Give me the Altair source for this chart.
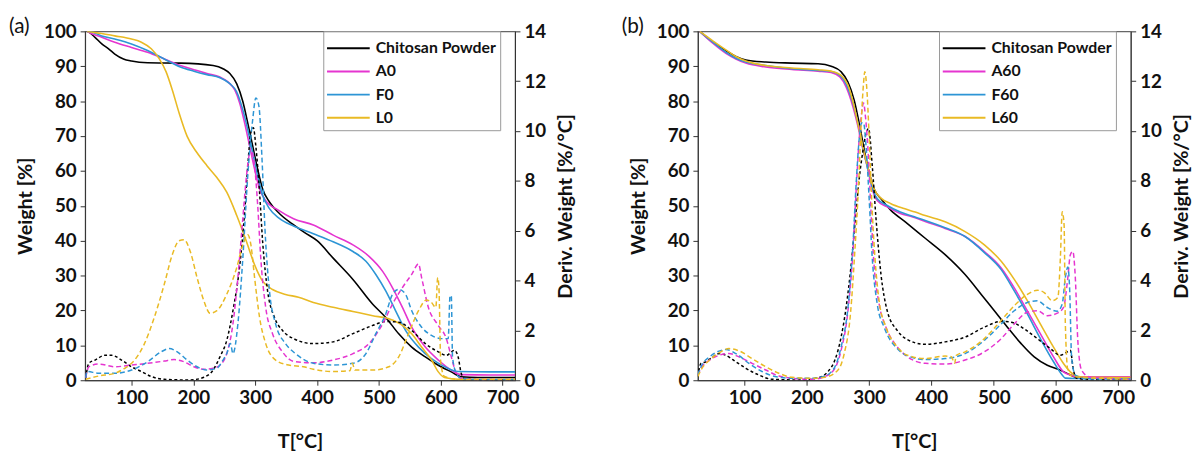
import altair as alt
import pandas as pd

# ---------------- Panel (a) : weight curves ----------------
A_CS_T = [28, 31, 41, 52, 63, 73, 87, 100, 126, 179, 232, 248, 259, 270, 280, 288, 296, 304, 312, 323, 339, 360, 380, 400, 426, 458, 490, 511, 532, 553, 575, 596, 617, 633, 660, 720]
A_CS_W = [100, 99.8, 98.3, 96.4, 95, 93.5, 92.1, 91.5, 91, 90.9, 90.2, 89.3, 87.9, 85, 79.9, 73.7, 67.1, 60.5, 54.8, 51.1, 47.8, 44.8, 42.3, 40, 35, 28.9, 21.8, 18, 13.3, 9.5, 6.7, 4.3, 2.4, 1.0, 0.8, 0.8]

A_A0_T = [28, 31, 52, 73, 100, 126, 153, 179, 201, 222, 243, 256, 267, 275, 283, 291, 299, 307, 317, 338, 362, 394, 426, 458, 484, 506, 522, 538, 553, 575, 596, 617, 633, 680, 720]
A_A0_W = [100, 99.7, 98.3, 96.9, 95.4, 94, 92.1, 90.2, 89, 87.9, 86.9, 85.5, 83.2, 79.4, 73.7, 67.1, 60.5, 54.8, 51.5, 48.7, 46.3, 44.5, 41.6, 38.8, 35.5, 31.2, 26.5, 20.9, 15.2, 9.5, 5.8, 2.9, 1.6, 1.5, 1.5]

A_F0_T = [28, 31, 52, 73, 100, 126, 153, 179, 201, 222, 243, 259, 270, 280, 288, 296, 304, 312, 323, 339, 362, 394, 426, 458, 479, 495, 511, 527, 543, 564, 585, 606, 628, 680, 720]
A_F0_W = [100, 100, 98.7, 97.8, 96.4, 94.5, 92.1, 89.8, 88.6, 87.6, 86.7, 85, 82.7, 77.5, 71.8, 65.2, 58.6, 53, 49.2, 46.4, 44.2, 42, 39.7, 36.9, 34.1, 30.3, 25.6, 19.9, 14.3, 9.5, 6.2, 3.9, 2.5, 2.4, 2.4]

A_L0_T = [28, 52, 73, 100, 116, 132, 145, 156, 166, 177, 190, 206, 222, 238, 254, 270, 286, 299, 312, 328, 349, 370, 394, 426, 458, 490, 516, 538, 553, 569, 585, 596, 606, 628, 720]
A_L0_W = [100, 99.4, 98.7, 97.8, 96.9, 95, 92.1, 88.4, 83.2, 76.6, 69.9, 65.2, 61.5, 58.1, 53.9, 47.3, 39.7, 33.1, 28.4, 26, 24.6, 23.8, 22.3, 20.9, 19.7, 18.5, 17.6, 15.7, 13.3, 9.5, 5.8, 2.4, 0.8, 0.3, 0.3]

# ---------------- Panel (a) : derivative curves ----------------
A_CSD_T = [26, 31, 41, 57, 68, 84, 100, 116, 132, 153, 195, 217, 232, 243, 254, 264, 275, 283, 288, 293, 297, 301, 307, 312, 320, 331, 344, 362, 394, 426, 458, 490, 511, 532, 553, 575, 596, 609, 622, 628, 633, 638, 660, 720]
A_CSD_D = [0.08, 0.68, 0.81, 1.0, 1.0, 0.81, 0.54, 0.35, 0.15, 0.04, 0.01, 0.12, 0.41, 0.94, 1.6, 2.79, 4.6, 6.76, 8.6, 9.94, 10.13, 9.4, 7.55, 5.57, 3.59, 2.53, 2.0, 1.67, 1.47, 1.54, 1.87, 2.2, 2.36, 2.33, 2.0, 1.47, 1.14, 1.0, 1.2, 0.94, 0.28, 0.08, 0.02, 0.02]

A_A0D_T = [26, 31, 47, 73, 100, 126, 153, 169, 185, 201, 217, 232, 246, 254, 264, 272, 280, 286, 291, 295, 299, 304, 309, 317, 328, 344, 362, 394, 426, 458, 484, 506, 522, 538, 553, 564, 569, 580, 596, 609, 617, 625, 633, 660, 720]
A_A0D_D = [0.1, 0.54, 0.65, 0.54, 0.61, 0.68, 0.77, 0.83, 0.74, 0.54, 0.44, 0.48, 0.68, 1.07, 2.26, 4.12, 6.5, 8.22, 9.08, 9.14, 8.6, 7.03, 4.9, 2.92, 1.87, 1.14, 0.76, 0.7, 0.81, 1.07, 1.47, 2.26, 3.06, 3.72, 4.25, 4.67, 4.12, 2.92, 2.2, 1.67, 0.94, 0.28, 0.08, 0.03, 0.03]

A_F0D_T = [26, 28, 47, 73, 100, 126, 148, 161, 174, 190, 206, 222, 238, 248, 254, 260, 264, 272, 280, 288, 296, 301, 306, 311, 316, 323, 333, 349, 365, 394, 426, 458, 479, 495, 511, 522, 532, 543, 553, 569, 585, 601, 612, 615, 617, 619, 625, 633, 660, 720]
A_F0D_D = [0.1, 0.35, 0.28, 0.28, 0.41, 0.74, 1.14, 1.27, 1.14, 0.81, 0.54, 0.41, 0.48, 0.81, 1.07, 1.47, 1.07, 2.26, 4.9, 8.22, 10.47, 11.33, 11.0, 8.88, 5.97, 3.59, 2.26, 1.47, 1.07, 0.68, 0.61, 0.68, 1.07, 1.87, 2.66, 3.45, 3.65, 3.45, 2.79, 2.13, 1.8, 1.67, 1.67, 3.39, 3.39, 0.94, 0.28, 0.08, 0.03, 0.03]

A_L0D_T = [26, 47, 73, 89, 105, 121, 137, 153, 166, 177, 185, 195, 206, 217, 227, 238, 254, 270, 280, 288, 293, 299, 307, 317, 333, 354, 378, 394, 426, 453, 457, 461, 490, 516, 532, 548, 564, 577, 585, 592, 595, 597, 600, 606, 630, 720]
A_L0D_D = [0.04, 0.17, 0.28, 0.48, 0.81, 1.47, 2.53, 3.85, 5.04, 5.6, 5.64, 5.17, 4.12, 3.19, 2.69, 2.79, 3.45, 4.51, 5.44, 5.84, 5.44, 4.12, 2.53, 1.47, 0.81, 0.61, 0.54, 0.44, 0.35, 0.38, 0.68, 0.41, 0.41, 0.54, 0.94, 1.87, 2.79, 3.22, 3.12, 2.92, 4.12, 3.72, 0.68, 0.15, 0.03, 0.03]

# ---------------- Panel (b) : weight curves ----------------
B_CS_T = [28, 49, 70, 86, 102, 134, 176, 218, 239, 255, 266, 276, 284, 292, 300, 308, 319, 335, 358, 390, 422, 454, 480, 501, 522, 544, 565, 586, 607, 623, 633, 680, 720]
B_CS_W = [100, 96.9, 94.5, 92.8, 91.8, 91.2, 90.9, 90.7, 90, 88.4, 85.5, 80.3, 73.7, 66.2, 59.6, 54.8, 52, 48.7, 45.4, 40.7, 36, 30.3, 24.6, 19.9, 15.2, 10.5, 6.7, 4.3, 2.9, 1.5, 0.85, 0.8, 0.8]

B_A60_T = [28, 49, 70, 86, 102, 134, 176, 218, 239, 253, 263, 274, 282, 290, 298, 305, 313, 329, 350, 370, 390, 422, 454, 485, 512, 533, 554, 575, 596, 612, 623, 633, 680, 720]
B_A60_W = [100, 96.6, 93.7, 92.1, 90.9, 89.8, 89.1, 88.6, 88.2, 86.9, 84.1, 78.4, 72.8, 66.2, 60.5, 54.8, 51.5, 49.7, 47.8, 46.8, 45.5, 43.5, 41.2, 36.9, 32.2, 26.5, 19.9, 13.3, 6.7, 2.4, 1.5, 1.0, 1.0, 1.0]

B_F60_T = [28, 49, 70, 86, 102, 134, 176, 218, 239, 253, 263, 274, 282, 290, 298, 305, 313, 329, 350, 370, 390, 422, 454, 485, 512, 533, 554, 575, 596, 610, 615, 630, 720]
B_F60_W = [100, 96.9, 94, 92.3, 91.2, 90.2, 89.3, 88.8, 88.5, 87.4, 84.9, 79.4, 73.7, 66.6, 60.5, 55.3, 52, 50.1, 48.2, 47, 45.8, 43.7, 41.2, 36.6, 31.7, 25.6, 19, 11.9, 5.3, 1.5, 0.6, 0.5, 0.5]

B_L60_T = [28, 49, 70, 86, 102, 134, 176, 218, 239, 255, 266, 276, 284, 292, 300, 308, 319, 335, 356, 374, 390, 422, 454, 485, 512, 533, 554, 575, 596, 612, 623, 633, 649, 720]
B_L60_W = [100, 97.3, 94.7, 92.8, 91.5, 90.2, 89.5, 89, 88.6, 87.4, 84.6, 78.4, 71.8, 65.2, 59.6, 54.8, 52.2, 50.6, 49.2, 48.2, 47.2, 45.4, 42.6, 38.8, 34.1, 28.9, 22.8, 16.1, 9.5, 4.8, 2.4, 1.2, 0.85, 0.8]

# ---------------- Panel (b) : derivative curves ----------------
B_CSD_T = [25, 30, 38, 49, 59, 70, 86, 102, 123, 144, 192, 218, 234, 245, 255, 263, 271, 279, 284, 290, 295, 299, 305, 311, 319, 329, 345, 360, 390, 422, 454, 485, 512, 528, 549, 570, 591, 607, 618, 623, 628, 633, 660, 720]
B_CSD_D = [0.15, 0.68, 0.74, 0.94, 1.07, 1.0, 0.74, 0.48, 0.21, 0.04, 0.01, 0.1, 0.35, 0.81, 1.73, 2.92, 4.6, 6.76, 8.08, 9.2, 9.9, 10.1, 8.61, 6.5, 4.25, 2.79, 2.0, 1.65, 1.44, 1.54, 1.73, 2.13, 2.36, 2.33, 2.06, 1.67, 1.27, 1.0, 1.14, 1.2, 0.41, 0.08, 0.02, 0.02]

B_A60D_T = [25, 30, 44, 59, 75, 91, 112, 134, 155, 176, 208, 229, 245, 255, 266, 274, 279, 284, 288, 291, 294, 299, 303, 308, 316, 327, 345, 360, 390, 422, 454, 485, 512, 533, 554, 570, 586, 602, 612, 619, 623, 627, 631, 635, 641, 655, 720]
B_A60D_D = [0.2, 0.48, 0.81, 1.0, 1.07, 0.94, 0.68, 0.41, 0.17, 0.08, 0.04, 0.15, 0.48, 1.2, 2.79, 5.17, 7.55, 9.67, 10.73, 11.13, 10.6, 8.88, 6.76, 4.6, 3.06, 2.13, 1.34, 0.97, 0.68, 0.65, 0.81, 1.14, 1.67, 2.26, 2.73, 2.79, 2.59, 2.69, 2.92, 4.12, 5.04, 5.17, 4.12, 1.6, 0.41, 0.12, 0.04]

B_F60D_T = [25, 30, 44, 59, 70, 86, 107, 128, 149, 176, 208, 229, 245, 255, 266, 274, 279, 284, 288, 291, 295, 300, 305, 313, 324, 345, 360, 390, 422, 454, 485, 512, 533, 554, 570, 586, 602, 610, 615, 619, 622, 625, 631, 650, 720]
B_F60D_D = [0.2, 0.54, 0.94, 1.17, 1.23, 1.07, 0.68, 0.35, 0.15, 0.08, 0.08, 0.17, 0.54, 1.34, 2.92, 5.44, 7.82, 9.67, 10.33, 10.33, 9.41, 7.29, 4.9, 3.06, 2.13, 1.27, 1.0, 0.83, 0.87, 1.07, 1.6, 2.26, 2.79, 3.12, 3.19, 2.92, 2.77, 3.06, 4.12, 4.54, 3.59, 0.94, 0.21, 0.05, 0.05]

B_L60D_T = [25, 30, 44, 59, 75, 91, 112, 134, 155, 176, 208, 229, 250, 260, 270, 277, 283, 287, 291, 293, 296, 300, 304, 309, 316, 327, 345, 360, 390, 422, 432, 437, 440, 454, 485, 512, 533, 554, 570, 581, 594, 603, 607, 610, 613, 615, 619, 626, 720]
B_L60D_D = [0.15, 0.41, 0.81, 1.1, 1.27, 1.18, 0.87, 0.54, 0.28, 0.12, 0.08, 0.12, 0.41, 1.07, 2.66, 5.17, 7.82, 10.2, 11.92, 12.38, 11.79, 9.8, 7.29, 5.04, 3.19, 2.13, 1.34, 1.02, 0.87, 0.97, 0.94, 0.68, 1.0, 1.14, 1.67, 2.4, 2.99, 3.45, 3.61, 3.52, 3.19, 3.32, 4.91, 6.76, 6.23, 2.26, 0.41, 0.15, 0.04]

A_NAMES = ["Chitosan Powder", "A0", "F0", "L0"]
B_NAMES = ["Chitosan Powder", "A60", "F60", "L60"]
COLORS = ["#000000", "#E535D0", "#2D95D5", "#E9BA24"]
DASHES = [[3, 2.5], [5, 3], [5, 3], [5, 3]]
FONT = "Lato"


def frame(names, ts_list, vs_list):
    rows = []
    for name, ts, vs in zip(names, ts_list, vs_list):
        for t, v in zip(ts, vs):
            rows.append({"s": name, "T": t, "v": v})
    return pd.DataFrame(rows)


def panel(names, w_t, w_v, d_t, d_v, label, width):
    wdf = frame(names, w_t, w_v)
    ddf = frame(names, d_t, d_v)
    x = alt.X(
        "T:Q",
        scale=alt.Scale(domain=[25, 720], nice=False, zero=False),
        axis=alt.Axis(values=[100, 200, 300, 400, 500, 600, 700], title="T[°C]",
                      labelPadding=4, titlePadding=24),
    )
    weight = alt.Chart(wdf).mark_line(interpolate="monotone", strokeWidth=1.6, clip=True).encode(
        x=x,
        y=alt.Y("v:Q", scale=alt.Scale(domain=[0, 100], nice=False),
                axis=alt.Axis(values=list(range(0, 101, 10)), title="Weight  [%]", orient="left",
                              labelPadding=4, titlePadding=8)),
        color=alt.Color("s:N", sort=names, scale=alt.Scale(domain=names, range=COLORS),
                        legend=alt.Legend(title=None, orient="none", legendX=width - 194, legendY=0,
                                          symbolType="M-2.6,0H1", symbolSize=576,
                                          symbolStrokeWidth=2, symbolOffset=18, labelOffset=5,
                                          labelFont=FONT, labelFontSize=16, labelFontWeight="bold",
                                          labelColor="#111", padding=4, rowPadding=2.5,
                                          strokeColor="#999", fillColor="white")),
    )
    deriv = alt.Chart(ddf).mark_line(interpolate="monotone", strokeWidth=1.5, clip=True).encode(
        x=x,
        y=alt.Y("v:Q", scale=alt.Scale(domain=[0, 14], nice=False),
                axis=alt.Axis(values=list(range(0, 15, 2)), title="Deriv. Weight [%/°C]", orient="right",
                              labelPadding=4, titlePadding=10, titleAngle=270, titleBaseline="top")),
        color=alt.Color("s:N", sort=names, scale=alt.Scale(domain=names, range=COLORS), legend=None),
        strokeDash=alt.StrokeDash("s:N", sort=names, scale=alt.Scale(domain=names, range=DASHES), legend=None),
    )
    return alt.layer(weight, deriv).resolve_scale(
        y="independent", color="independent", strokeDash="independent"
    ).properties(
        width=width, height=353,
        title=alt.TitleParams(text=label, anchor="start", frame="group", fontSize=21,
                              fontWeight="normal", font=FONT, color="#111", dx=-77, offset=-15),
    )


pa = panel(A_NAMES, [A_CS_T, A_A0_T, A_F0_T, A_L0_T], [A_CS_W, A_A0_W, A_F0_W, A_L0_W],
           [A_CSD_T, A_A0D_T, A_F0D_T, A_L0D_T], [A_CSD_D, A_A0D_D, A_F0D_D, A_L0D_D], "(a)", 435)
pb = panel(B_NAMES, [B_CS_T, B_A60_T, B_F60_T, B_L60_T], [B_CS_W, B_A60_W, B_F60_W, B_L60_W],
           [B_CSD_T, B_A60D_T, B_F60D_T, B_L60D_T], [B_CSD_D, B_A60D_D, B_F60D_D, B_L60D_D], "(b)", 438)

chart = alt.hconcat(pa, pb, spacing=45).properties(
    padding={"left": 0, "top": 5, "right": 2, "bottom": 0}
).configure_view(stroke="#666", strokeWidth=1.2).configure_axis(
    labelFont=FONT, labelFontSize=19, labelFontWeight="bold", labelColor="#111",
    titleFont=FONT, titleFontSize=20, titleFontWeight="bold", titleColor="#111",
    tickSize=5, tickColor="#333", domainColor="#333", grid=False,
).configure_legend(cornerRadius=0)

chart.save("out.html", embed_options={"renderer": "svg", "actions": False})
